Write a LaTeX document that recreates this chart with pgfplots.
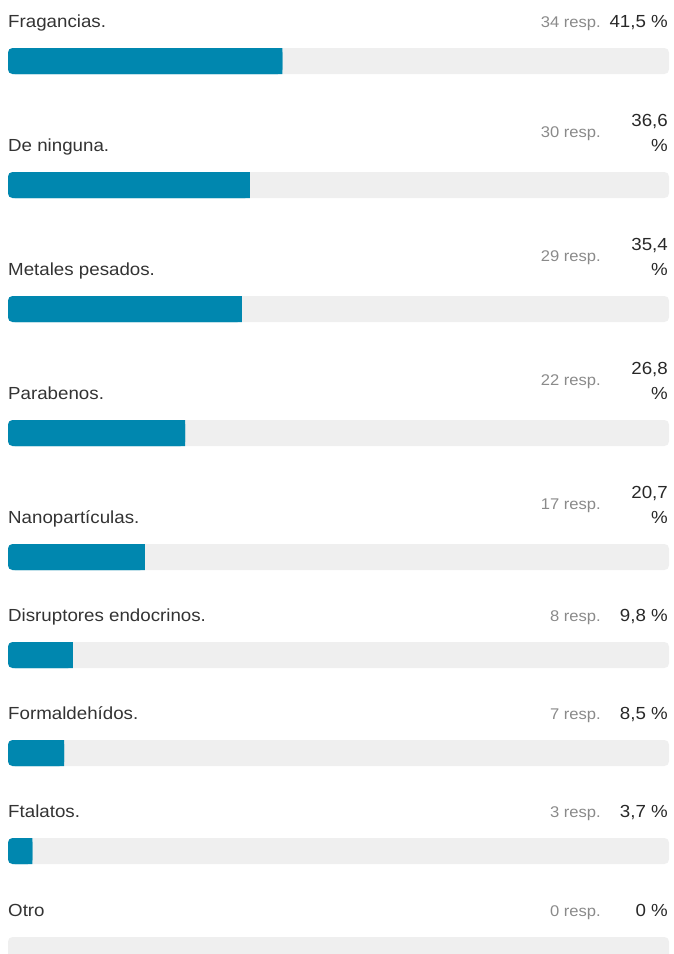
\documentclass[border=0pt]{standalone}
\usepackage{fontspec}
\setmainfont{Liberation Sans}[FakeStretch=1.07]
\usepackage{pgfplots}
\usepackage{pgfplotstable}
\pgfplotsset{compat=1.18}

\definecolor{barblue}{RGB}{0,135,175}
\definecolor{track}{RGB}{239,239,239}
\definecolor{labeltext}{RGB}{51,51,51}
\definecolor{pcttext}{RGB}{40,40,40}
\definecolor{resptext}{RGB}{138,138,138}

% y = centre row of each bar, pct = share of answers, resp = count,
% pa/pb = first/second line of the percentage, ry = lift of the count text
\pgfplotstableread[col sep=semicolon]{
y;pct;resp;label;pa;pb;ry
61;41.5;34;Fragancias.;;41,5 \%;0
185;36.6;30;De ninguna.;36,6;\%;14
309;35.4;29;Metales pesados.;35,4;\%;14
433;26.8;22;Parabenos.;26,8;\%;14
557;20.7;17;Nanopartículas.;20,7;\%;14
655;9.8;8;Disruptores endocrinos.;;9,8 \%;0
753;8.5;7;Formaldehídos.;;8,5 \%;0
851;3.7;3;Ftalatos.;;3,7 \%;0
950;0;0;Otro;;0 \%;0
}\answers

\pgfplotsset{
  panel/.style={
    x=6.61pt, y=1pt, y dir=reverse,
    xmin=-1.2103, xmax=100.6051, ymin=0, ymax=954,
    axis line style={draw=none}, ticks=none,
    at={(0,0)}, anchor=south west,
  },
  txt/.style={draw=none, nodes near coords, point meta=explicit symbolic,
    nodes near coords style={inner sep=0pt, #1}},
}

\begin{document}
\begin{tikzpicture}
\begin{axis}[panel]
  % grey tracks
  \addplot[xbar, bar width=26, fill=track, draw=none, rounded corners=4.5pt]
    table[x expr=100, y=y] {\answers};
  % answer share, rounded at both ends (right end squared off below);
  % empty answers draw no bar at all
  \addplot[xbar, bar width=26, fill=barblue, draw=none, rounded corners=4.5pt,
    restrict x to domain=0.01:200]
    table[x=pct, y=y] {\answers};
  % option names
  \addplot[txt={anchor=base west, text=labeltext, font=\fontsize{17.5}{21}\selectfont}]
    table[x expr=0, y expr=\thisrow{y}-33.5, meta=label] {\answers};
  % response counts
  \addplot[txt={anchor=base east, text=resptext, font=\fontsize{15.5}{18}\selectfont},
    nodes near coords={\pgfplotspointmeta{} resp.}]
    table[x expr=89.71, y expr=\thisrow{y}-33.5-\thisrow{ry}, meta=resp] {\answers};
  % percentages
  \addplot[txt={anchor=base east, text=pcttext, font=\fontsize{17.5}{21}\selectfont}]
    table[x expr=99.85, y expr=\thisrow{y}-58.5, meta=pa] {\answers};
  \addplot[txt={anchor=base east, text=pcttext, font=\fontsize{17.5}{21}\selectfont}]
    table[x expr=99.85, y expr=\thisrow{y}-33.5, meta=pb] {\answers};
\end{axis}
\begin{axis}[panel, xbar stacked, bar width=26]
  % square right end of each answer bar
  \addplot[draw=none, fill=none] table[x expr={min(\thisrow{pct},1)}, y=y] {\answers};
  \addplot[draw=none, fill=barblue] table[x expr={\thisrow{pct}-min(\thisrow{pct},1)}, y=y] {\answers};
\end{axis}
\end{tikzpicture}
\end{document}
